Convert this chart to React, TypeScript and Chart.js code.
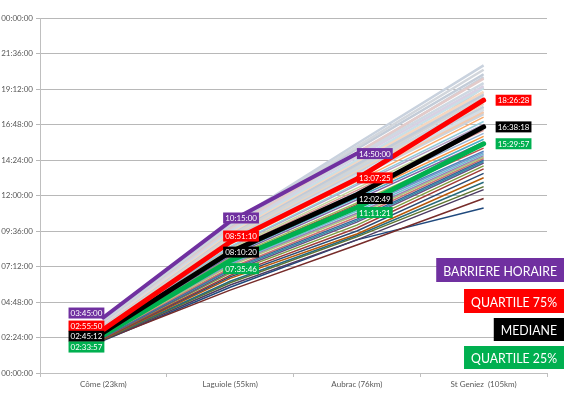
import React, { useEffect, useRef } from "react";
import { Chart, registerables } from "chart.js";

Chart.register(...registerables);

const categories = ["Côme (23km)", "Laguiole (55km)", "Aubrac (76km)", "St Geniez  (105km)"];

// special series (HH:MM:SS)
const barriereHoraire = ["03:45:00", "10:15:00", "14:50:00", null];
const quartile75 = ["02:55:50", "08:51:10", "13:07:25", "18:26:28"];
const mediane = ["02:45:12", "08:10:20", "12:02:49", "16:38:18"];
const quartile25 = ["02:33:57", "07:35:46", "11:11:21", "15:29:57"];

// slower runners (hours)
const slowRunners: number[][] = [
  [3.6, 10.1, 15.5, 20.8],
  [3.55, 10.0, 15.3, 20.5],
  [3.5, 9.95, 15.15, 20.2],
  [3.5, 9.8, 14.9, 19.9],
  [3.45, 9.75, 14.75, 19.6],
  [3.4, 9.7, 14.6, 19.4],
  [3.42, 9.6, 14.4, 19.25],
  [3.35, 9.5, 14.3, 19.0],
  [3.3, 9.45, 14.1, 18.8],
  [3.28, 9.3, 14.0, 18.6],
  [3.25, 9.3, 13.8, 18.4],
  [3.2, 9.2, 13.7, 18.2],
  [3.15, 9.1, 13.6, 18.0],
  [3.1, 9.0, 13.4, 17.8],
  [3.12, 8.95, 13.3, 17.65],
  [3.05, 8.9, 13.2, 17.5],
  [3.3, 9.8, 14.2, 18.9],
  [3.0, 8.8, 13.5, 19.3],
  [3.2, 9.05, 13.9, 17.9],
  [3.45, 9.55, 14.8, 20.0],
];

// other runners (hours)
const otherRunners: number[][] = [
  [3.05, 8.8, 13.2, 17.6],
  [3.0, 8.7, 12.95, 17.3],
  [2.95, 8.55, 12.8, 17.0],
  [2.92, 8.5, 12.7, 16.8],
  [2.88, 8.4, 12.5, 16.6],
  [2.85, 8.3, 12.35, 16.4],
  [2.8, 8.2, 12.2, 16.2],
  [2.8, 8.05, 12.0, 16.0],
  [2.75, 8.0, 11.85, 15.8],
  [2.72, 7.9, 11.7, 15.6],
  [2.7, 7.8, 11.5, 15.4],
  [2.65, 7.7, 11.4, 15.2],
  [2.62, 7.6, 11.2, 15.0],
  [2.6, 7.5, 11.1, 14.9],
  [2.55, 7.4, 10.95, 14.8],
  [2.55, 7.35, 10.8, 14.7],
  [2.5, 7.25, 10.7, 14.6],
  [2.5, 7.1, 10.55, 14.5],
  [2.45, 7.05, 10.4, 14.4],
  [2.45, 6.95, 10.3, 14.3],
  [2.4, 6.85, 10.2, 14.2],
  [2.4, 6.75, 10.0, 14.0],
  [2.35, 6.6, 9.8, 13.8],
  [2.35, 6.5, 9.6, 13.5],
  [2.3, 6.4, 9.4, 13.2],
  [2.3, 6.2, 9.3, 12.9],
  [2.28, 6.1, 9.2, 12.6],
  [2.25, 5.95, 9.0, 12.4],
  [2.25, 5.6, 8.65, 11.8],
  [2.2, 5.8, 9.0, 11.15],
];

const slowColors = [
  "#c9d2de", "#d2d6dc", "#c3ccd8", "#e3cbca", "#cfd8e2", "#d8d1e3", "#c8dfe7", "#f6d6bf",
  "#c1cbd8", "#d3d3d3", "#ccd5df", "#e8d5c0", "#c6cfdb", "#d5dde6", "#f2c8ad", "#cbd3dd",
  "#d0d8e1", "#c5cfda", "#dce3c9", "#c9d1dc",
];
const otherColors = [
  "#e8c39e", "#f9ab6b", "#93cddd", "#b3a2c7", "#c3d69b", "#d99694", "#95b3d7", "#f79646",
  "#4bacc6", "#8064a2", "#9bbb59", "#c0504d", "#4f81bd", "#729aca", "#6fbdd1", "#9983b5",
  "#afc97a", "#cd7371", "#3a679c", "#358ea6", "#664f83", "#7e9c40", "#9f3b38", "#2c4d75",
  "#b65708", "#276a7c", "#5f7530", "#4d3b62", "#772c2a", "#1f497d",
];

const specialColors = ["#7030a0", "#ff0000", "#000000", "#00b050"];
const legendTexts = ["BARRIERE HORAIRE", "QUARTILE 75%", "MEDIANE", "QUARTILE 25%"];

const toHours = (s: string | null) => {
  if (s == null) return null;
  const [h, m, sec] = s.split(":").map(Number);
  return h + m / 60 + sec / 3600;
};

const fmt = (v: number) => {
  let t = Math.round(v * 3600) % 86400;
  const h = Math.floor(t / 3600);
  const m = Math.floor((t % 3600) / 60);
  const s = t % 60;
  const p = (n: number) => String(n).padStart(2, "0");
  return `${p(h)}:${p(m)}:${p(s)}`;
};

// label placement per category: mode, dx ; per series dy
const labelAnchor = [
  { side: "left", dx: 1 },
  { side: "right", dx: -7 },
  { side: "right", dx: 0 },
  { side: "right", dx: 12 },
];
const labelDy = [
  [-4.5, -3.4, 0, 0],
  [-3.6, -6, -1, 0],
  [4, 0, 3.7, 0],
  [12, 8, 5, 0],
];
const legendBoxes = [
  { right: 564, top: 258, h: 24 },
  { right: 564, top: 289, h: 24 },
  { right: 564, top: 318, h: 23 },
  { right: 564, top: 346, h: 23 },
];

const annotPlugin = {
  id: "annot",
  afterDatasetsDraw(chart: any) {
    const ctx = chart.ctx;
    ctx.save();
    for (let di = 0; di < 4; di++) {
      const meta = chart.getDatasetMeta(di);
      const vals = chart.data.datasets[di].data;
      meta.data.forEach((pt: any, i: number) => {
        const v = vals[i];
        if (v == null) return;
        const text = fmt(v);
        ctx.font = "8px Lato";
        const w = ctx.measureText(text).width + 4;
        const h = 11;
        const a = labelAnchor[i];
        const x0 = a.side === "left" ? pt.x + a.dx - w : pt.x + a.dx;
        const cy = pt.y + labelDy[di][i];
        ctx.fillStyle = specialColors[di];
        ctx.fillRect(x0, cy - h / 2, w, h);
        ctx.fillStyle = "#ffffff";
        ctx.textAlign = "center";
        ctx.textBaseline = "middle";
        ctx.fillText(text, x0 + w / 2, cy + 0.5);
      });
    }
    const sx = 0.88;
    legendTexts.forEach((t, i) => {
      const b = legendBoxes[i];
      ctx.font = "14px Lato";
      const tw = ctx.measureText(t).width * sx;
      const w = tw + 14;
      ctx.fillStyle = specialColors[i];
      ctx.fillRect(b.right - w, b.top, w, b.h);
      ctx.save();
      ctx.translate(b.right - w / 2, b.top + b.h / 2 + 1);
      ctx.scale(sx, 1);
      ctx.fillStyle = "#ffffff";
      ctx.textAlign = "center";
      ctx.textBaseline = "middle";
      ctx.fillText(t, 0, 0);
      ctx.restore();
    });
    ctx.restore();
  },
};

export default function App() {
  const ref = useRef<HTMLCanvasElement>(null);
  useEffect(() => {
    document.body.style.margin = "0";
    const specials = [barriereHoraire, quartile75, mediane, quartile25].map((a) => a.map(toHours));
    const widths = [4, 5, 5, 5];
    const datasets: any[] = [];
    specials.forEach((d, i) =>
      datasets.push({
        data: d,
        borderColor: specialColors[i],
        borderWidth: widths[i],
        borderCapStyle: "round",
        pointRadius: 0,
        spanGaps: false,
      })
    );
    slowRunners.forEach((d, i) =>
      datasets.push({ data: d, borderColor: slowColors[i % slowColors.length], borderWidth: 2.5, pointRadius: 0 })
    );
    otherRunners.forEach((d, i) =>
      datasets.push({ data: d, borderColor: otherColors[i % otherColors.length], borderWidth: 1.5, pointRadius: 0 })
    );
    const chart = new Chart(ref.current!, {
      type: "line",
      data: { labels: categories, datasets },
      options: {
        animation: false,
        responsive: false,
        layout: { padding: { top: 18, right: 33, left: 0, bottom: 0 } },
        plugins: { legend: { display: false }, tooltip: { enabled: false } },
        elements: { line: { tension: 0 } },
        scales: {
          x: {
            offset: true,
            grid: { offset: true, drawOnChartArea: false, drawTicks: true, tickLength: 4, color: "#bfbfbf" },
            border: { color: "#bfbfbf" },
            ticks: { color: "#595959", font: { family: "Lato", size: 8 }, padding: 3, maxRotation: 0 },
            afterFit: (s: any) => {
              s.height = 24;
            },
          },
          y: {
            min: 0,
            max: 24,
            ticks: {
              stepSize: 2.4,
              color: "#595959",
              font: { family: "Lato", size: 8 },
              padding: 3,
              callback: (v: any) => fmt(Number(v)),
            },
            grid: { color: "#b8b8b8", tickLength: 4 },
            border: { color: "#bfbfbf" },
            afterFit: (s: any) => {
              s.width = 40;
            },
          },
        },
      },
      plugins: [annotPlugin],
    });
    return () => chart.destroy();
  }, []);
  return (
    <div style={{ width: 580, height: 397 }}>
      <canvas ref={ref} width={580} height={397} />
    </div>
  );
}
